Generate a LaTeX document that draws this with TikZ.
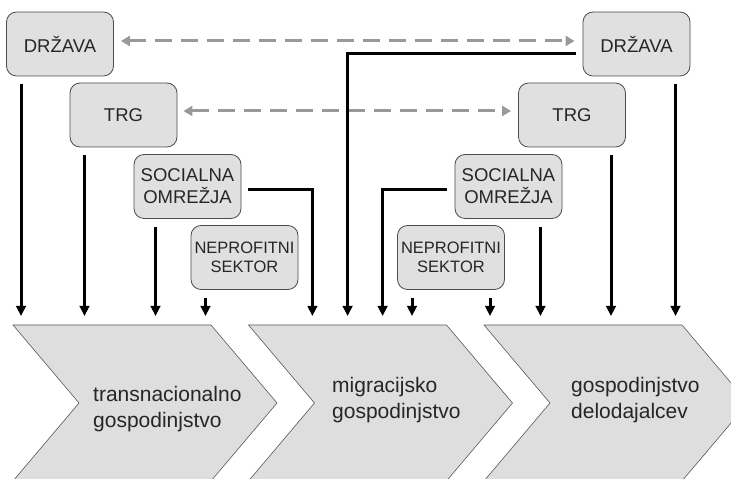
\documentclass[tikz,border=0pt]{standalone}
\usepackage{fontspec}
\setmainfont{Liberation Sans}
\usetikzlibrary{arrows.meta}

\begin{document}
\begin{tikzpicture}[x=1pt, y=1pt,
  box/.style={draw=black!70, line width=0.8pt, fill=black!12, rounded corners=10pt, minimum width=107pt, minimum height=64pt, inner sep=0pt, align=center, text=black!85, font=\fontsize{18.5}{22}\selectfont},
  small/.style={font=\fontsize{16.5}{19}\selectfont},
  arr/.style={line width=3pt, -{Triangle[width=9.5pt,length=10pt]}},
  link/.style={line width=3pt, draw=black!40, dash pattern=on 17pt off 9pt, {Triangle[width=10pt,length=9pt]}-{Triangle[width=10pt,length=9pt]}},
  chev/.style={draw=black!65, line width=0.6pt, fill=black!13},
  lbl/.style={font=\fontsize{21}{26}\selectfont, align=left, anchor=west, inner sep=0pt, text=black!85}]
\useasboundingbox (0,0) rectangle (731,479);
\coordinate (top) at (0,163);

%chevrons
\begin{scope}
\clip (0,0) rectangle (731,479);
\foreach \x in {13, 248.5, 484}{\filldraw[chev] (\x,154) -- ++(198,0) -- ++(66,-78) -- ++(-66,-78) -- ++(-198,0) -- ++(66,78) -- cycle;}
\end{scope}
\node[lbl] (h1) at (93,70) {transnacionalno\\gospodinjstvo};
\node[lbl] (h2) at (332,79) {migracijsko\\gospodinjstvo};
\node[lbl] (h3) at (571,79) {gospodinjstvo\\delodajalcev};

%left side
\node[box] (dl) at (60,435) {DRŽAVA};
\node[box] (tl) at (123.5,364) {TRG};
\node[box] (sl) at (187.5,292.5) {SOCIALNA\\OMREŽJA};
\node[box, small] (nl) at (244.5,221.5) {NEPROFITNI\\SEKTOR};

%right side
\node[box] (dr) at (636.5,435) {DRŽAVA};
\node[box] (tr) at (572,364) {TRG};
\node[box] (sr) at (508.5,292.5) {SOCIALNA\\OMREŽJA};
\node[box, small] (nr) at (451,221.5) {NEPROFITNI\\SEKTOR};

%links
\draw[link] ([xshift=7pt,yshift=3pt]dl.east) -- ([xshift=-8pt,yshift=3pt]dr.west);
\draw[link] ([xshift=6pt,yshift=4pt]tl.east) -- ([xshift=-7pt,yshift=4pt]tr.west);

%arrows
\foreach \n/\s in {dl/-39, tl/-39, sl/-32, nl/-39, nr/-39, nr/39, sr/32, tr/39, dr/39}{\draw[arr] ([xshift=\s pt, yshift=-8pt]\n.south) -- ([xshift=\s pt]\n.south |- top);}
\draw[arr] ([xshift=7pt,yshift=-3.5pt]sl.east) -| ([xshift=71pt]sl.east |- top);
\draw[arr] ([xshift=-8pt,yshift=-3.5pt]sr.west) -| ([xshift=-72pt]sr.west |- top);
\draw[arr] ([xshift=-7pt,yshift=-10pt]dr.west) -| ([xshift=-235pt]dr.west |- top);
\end{tikzpicture}
\end{document}
